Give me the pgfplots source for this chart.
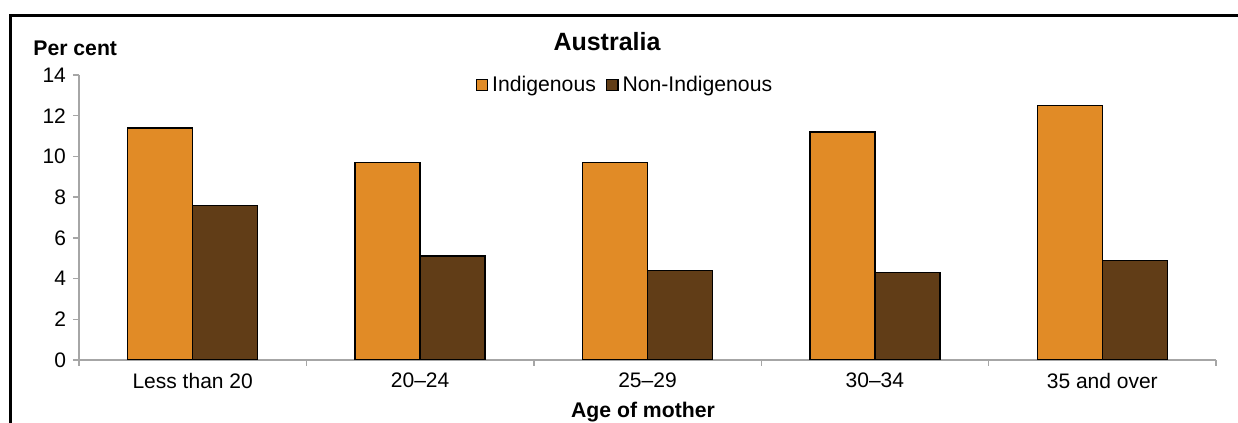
\documentclass[border=0pt]{standalone}
\usepackage{pgfplots}
\pgfplotsset{compat=1.18}
\usepackage{fontspec}
\setmainfont{Liberation Sans}
\definecolor{indig}{HTML}{E18B26}
\definecolor{nonindig}{HTML}{613D17}
\definecolor{axgray}{HTML}{A6A6A6}

\begin{document}
\begin{tikzpicture}[x=0.5pt,y=0.5pt]
\useasboundingbox (0,0) rectangle (1238,423);
% outer chart frame (cut off at right and bottom)
\draw[line width=1.5pt] (10,-10) -- (10,407) -- (1250,407);

\begin{axis}[
    at={(39.5pt,31.5pt)}, anchor=south west,
    scale only axis, width=568.5pt, height=142.5pt,
    ybar=0pt, bar width=32.5pt,
    xmin=-0.5, xmax=4.5, ymin=0, ymax=14,
    ytick={0,2,...,14},
    xtick={-0.5,0.5,1.5,2.5,3.5,4.5},
    x tick label as interval,
    xticklabels={Less than 20,20--24,25--29,30--34,35 and over},
    axis x line*=bottom, axis y line*=left,
    axis line style={draw=axgray, line width=0.7pt},
    tick style={draw=axgray, line width=0.7pt},
    tick align=outside, major tick length=3pt,
    ytick pos=left, xtick pos=bottom,
    /pgf/number format/assume math mode=true,
    tick label style={font=\fontsize{10.5}{12}\selectfont, black},
    legend style={at={(0.481,0.965)}, anchor=center, draw=none,
        font=\fontsize{10.6}{12}\selectfont,
        /tikz/every even column/.append style={column sep=3pt}},
    legend columns=2,
    legend image code/.code={\draw[#1, draw=black, line width=0.7pt]
        (0pt,-2.8pt) rectangle (5.6pt,2.8pt);},
]
\addplot[fill=indig, draw=black, line width=0.7pt] coordinates
    {(0,11.4) (1,9.7) (2,9.7) (3,11.2) (4,12.5)};
\addlegendentry{Indigenous}
\addplot[fill=nonindig, draw=black, line width=0.7pt] coordinates
    {(0,7.6) (1,5.1) (2,4.4) (3,4.3) (4,4.9)};
\addlegendentry{Non-Indigenous}
\end{axis}

\node[font=\fontsize{12.5}{14}\selectfont\bfseries] at (607,381) {Australia};
\node[font=\fontsize{10.6}{12}\selectfont\bfseries, anchor=west, inner sep=0pt] at (33,375) {Per cent};
\node[font=\fontsize{10.6}{12}\selectfont\bfseries] at (643,11) {Age of mother};
\end{tikzpicture}
\end{document}
